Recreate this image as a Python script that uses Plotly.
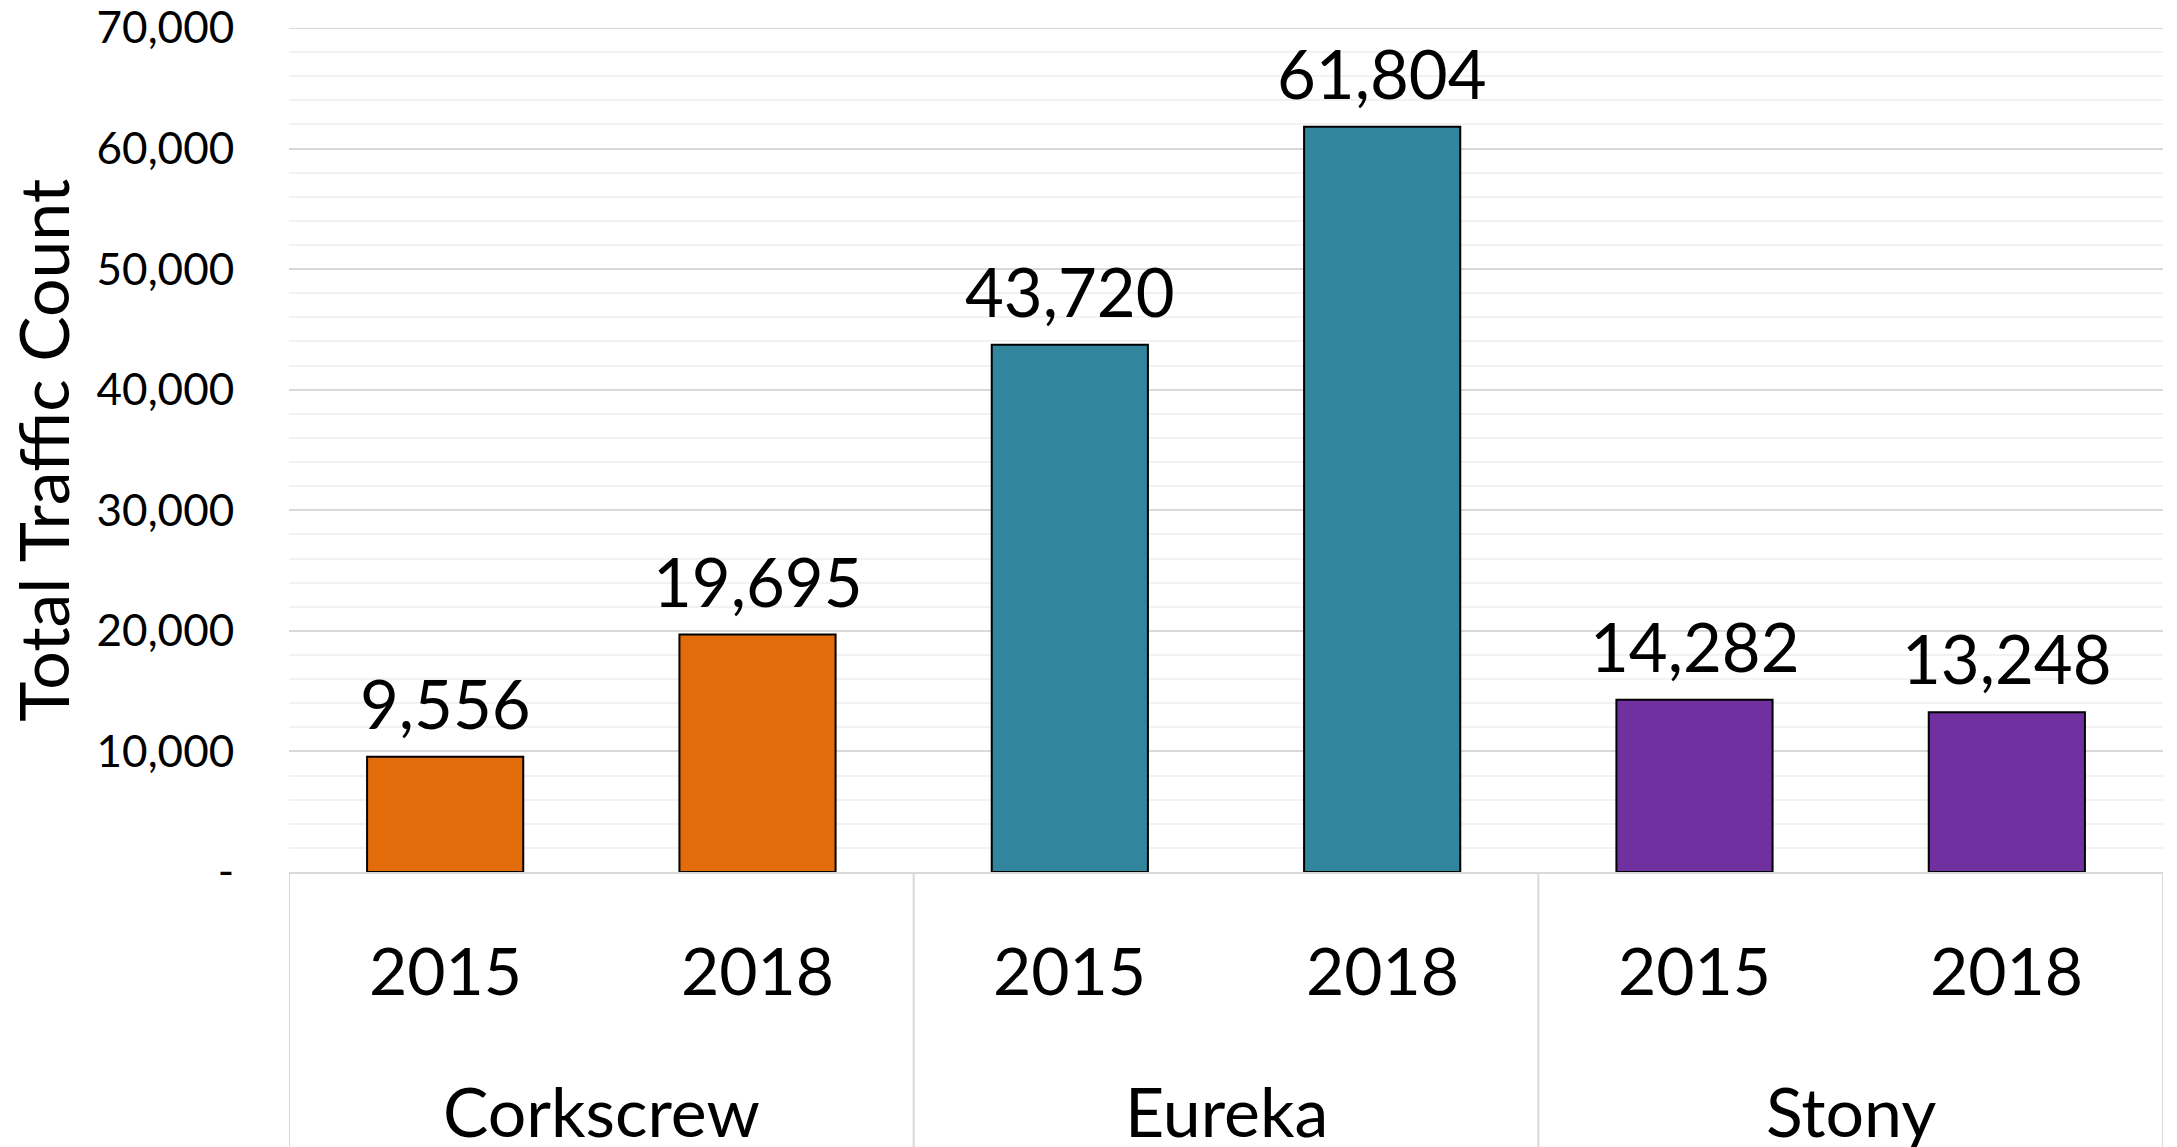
import plotly.graph_objects as go

groups = ["Corkscrew", "Corkscrew", "Eureka", "Eureka", "Stony", "Stony"]
years = ["2015", "2018", "2015", "2018", "2015", "2018"]
values = [9556, 19695, 43720, 61804, 14282, 13248]
colors = ["#E36C0A", "#E36C0A", "#31859C", "#31859C", "#7030A0", "#7030A0"]
tick_vals = [0, 10000, 20000, 30000, 40000, 50000, 60000, 70000]
tick_labels = ["-", "10,000", "20,000", "30,000", "40,000", "50,000", "60,000", "70,000"]
group_names = ["Corkscrew", "Eureka", "Stony"]
y_title = "Total Traffic Count"

FONT = "Lato"
cats = [f"{g} {y}" for g, y in zip(groups, years)]

fig = go.Figure()
fig.add_trace(go.Bar(
    x=cats, y=values,
    marker=dict(color=colors, line=dict(color="black", width=2)),
    width=0.5, hoverinfo="skip",
))

ann = []
for c, v in zip(cats, values):
    ann.append(dict(x=c, y=v, text=f"{v:,}", showarrow=False, xref="x", yref="y",
                    yanchor="bottom", yshift=12, font=dict(family=FONT, size=67, color="black")))
for c, yr in zip(cats, years):
    ann.append(dict(x=c, y=-0.115, text=yr, showarrow=False, xref="x", yref="paper",
                    yanchor="middle", font=dict(family=FONT, size=66, color="black")))
for i, g in enumerate(group_names):
    ann.append(dict(x=2 * i + 0.5, y=-0.283, text=g, showarrow=False, xref="x", yref="paper",
                    yanchor="middle", font=dict(family=FONT, size=68, color="black")))
ann.append(dict(x=-0.132, y=0.5, xref="paper", yref="paper", text=y_title, textangle=-90,
                showarrow=False, xanchor="center", yanchor="middle",
                font=dict(family=FONT, size=68, color="black")))

shapes = []
for i in range(len(group_names) + 1):
    xpos = 2 * i - 0.5
    shapes.append(dict(type="line", xref="x", yref="paper", x0=xpos, x1=xpos, y0=0, y1=-0.4,
                       line=dict(color="#D9D9D9", width=2)))
# top major gridline (plotly drops gridlines at the exact range end)
shapes.append(dict(type="line", xref="paper", yref="y", x0=0, x1=1, y0=tick_vals[-1], y1=tick_vals[-1],
                   line=dict(color="#D9D9D9", width=2), layer="below"))

fig.update_layout(
    width=2177, height=1147,
    margin=dict(l=281, r=22, t=20, b=283),
    plot_bgcolor="white", paper_bgcolor="white",
    showlegend=False,
    annotations=ann, shapes=shapes,
    font=dict(family=FONT, color="black"),
)
fig.update_xaxes(
    type="category", range=[-0.5, 5.5], showticklabels=False, ticks="",
    showline=True, linecolor="#D9D9D9", linewidth=2, showgrid=False, zeroline=False,
)
fig.update_yaxes(
    range=[0, 70000], tickvals=tick_vals, ticktext=tick_labels,
    tickfont=dict(family=FONT, size=44, color="black"),
    ticklabeloverflow="allow", automargin=False,
    showgrid=True, gridcolor="#D9D9D9", gridwidth=2,
    minor=dict(dtick=2000, showgrid=True, gridcolor="#F2F2F2", gridwidth=2),
    zeroline=False, showline=False,
    ticks="outside", ticklen=45, tickcolor="rgba(0,0,0,0)",
)

fig.write_html("out.html")
